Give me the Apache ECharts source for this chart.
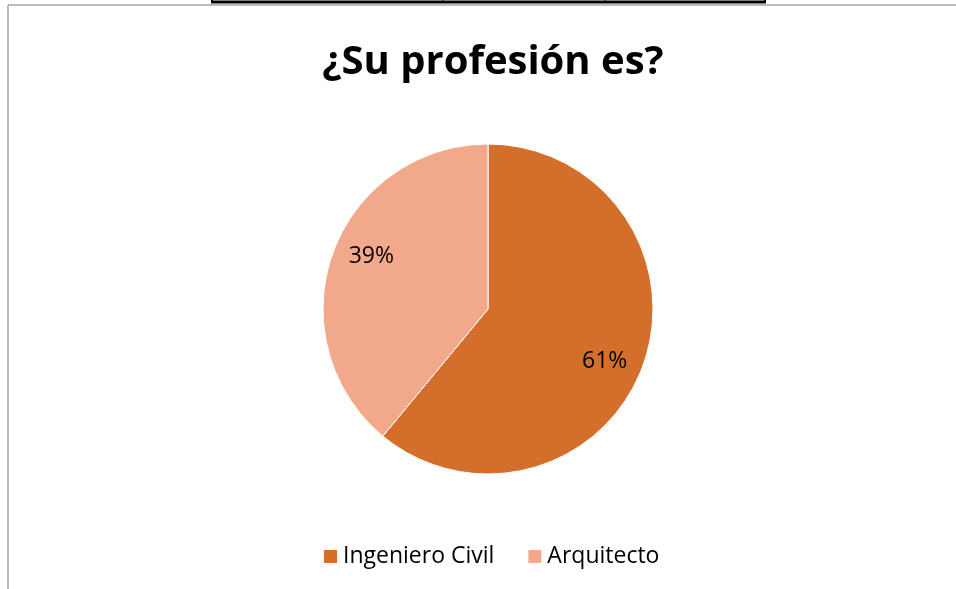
<!DOCTYPE html>
<html>
<head>
<meta charset="utf-8">
<script src="https://cdn.jsdelivr.net/npm/echarts@6/dist/echarts.min.js"></script>
<style>
  html, body { margin: 0; padding: 0; background: #fff; }
  #chart { width: 956px; height: 589px; }
</style>
</head>
<body>
<div id="chart"></div>
<script>
const categories = ["Ingeniero Civil", "Arquitecto"];
const values = [61, 39];
const colors = ["#D46F2B", "#F1A88B"];

const pieData = categories.map((name, i) => ({
  name: name,
  value: values[i],
  itemStyle: { color: colors[i] },
}));

const chart = echarts.init(document.getElementById("chart"));

const option = {
  animation: false,
  title: {
    text: "¿Su profesión es?",
    left: 488,
    top: 38,
    textAlign: "center",
    textStyle: {
      fontFamily: "Open Sans",
      fontSize: 40,
      fontWeight: "bold",
      color: "#000",
    },
  },
  legend: {
    data: categories,
    left: 322,
    top: 545,
    padding: 0,
    itemWidth: 15,
    itemHeight: 15,
    itemGap: 32,
    icon: "rect",
    textStyle: {
      fontFamily: "Open Sans",
      fontSize: 23,
      color: "#000",
    },
  },
  // frame pieces around the chart
  graphic: [
    { type: "line", shape: { x1: 8, y1: 5, x2: 956, y2: 5 }, style: { stroke: "#a6a6a6", lineWidth: 1.5 } },
    { type: "line", shape: { x1: 8, y1: 5, x2: 8, y2: 589 }, style: { stroke: "#a6a6a6", lineWidth: 1.5 } },
    { type: "line", shape: { x1: 211, y1: 2, x2: 766, y2: 2 }, style: { stroke: "#000", lineWidth: 3 } },
    { type: "line", shape: { x1: 212, y1: 0, x2: 212, y2: 3 }, style: { stroke: "#000", lineWidth: 2 } },
    { type: "line", shape: { x1: 443, y1: 0, x2: 443, y2: 3 }, style: { stroke: "#000", lineWidth: 1 } },
    { type: "line", shape: { x1: 605, y1: 0, x2: 605, y2: 3 }, style: { stroke: "#000", lineWidth: 1 } },
    { type: "line", shape: { x1: 765, y1: 0, x2: 765, y2: 3 }, style: { stroke: "#000", lineWidth: 2 } },
  ],
  series: [
    {
      type: "pie",
      center: [488, 309],
      radius: [0, 165],
      startAngle: 90,
      clockwise: true,
      data: pieData,
      label: { show: false },
      labelLine: { show: false },
      itemStyle: { borderColor: "#fff", borderWidth: 1 },
      emphasis: { disabled: true },
    },
    {
      // invisible ring only used to put the percent labels further out
      type: "pie",
      center: [488, 309],
      radius: [0, 250],
      startAngle: 85.5,
      clockwise: true,
      silent: true,
      data: pieData.map((d) => ({ name: d.name, value: d.value, itemStyle: { color: "transparent" } })),
      label: {
        show: true,
        position: "inside",
        formatter: "{d}%",
        fontFamily: "Open Sans",
        fontSize: 23,
        color: "#000",
      },
      labelLine: { show: false },
      itemStyle: { color: "transparent" },
      emphasis: { disabled: true },
    },
  ],
};

chart.setOption(option);
window.addEventListener("resize", () => {
  chart.resize();
});
</script>
</body>
</html>
